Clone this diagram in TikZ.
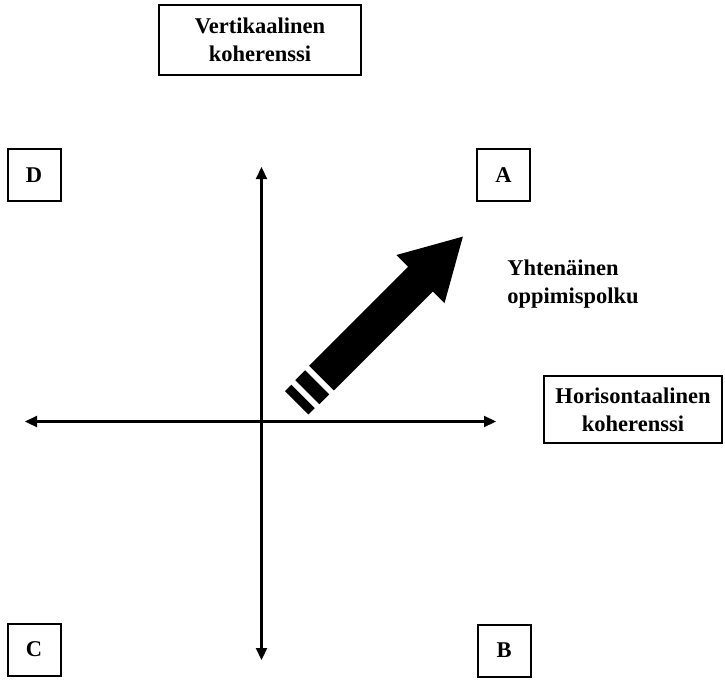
\documentclass[tikz,border=0pt]{standalone}
\usepackage{fontspec}
\setmainfont{Liberation Serif}
\usetikzlibrary{arrows.meta}
\begin{document}
\begin{tikzpicture}[x=1pt,y=-1pt,
  lbl/.style={font=\fontsize{22.5}{28}\selectfont\bfseries, align=center, inner sep=0pt},
  boxnode/.style={lbl, draw, line width=2pt},
  letterbox/.style={boxnode, minimum width=53pt, minimum height=52pt},
  axis/.style={line width=2.2pt, {Triangle[length=12pt,width=11pt]}-{Triangle[length=12pt,width=11pt]}}]
\useasboundingbox (0,0) rectangle (725,680);
% boxes
\node[boxnode, minimum width=202pt, minimum height=70pt] (vert) at (260,40) {Vertikaalinen\\koherenssi};
\node[boxnode, minimum width=178pt, minimum height=67pt] (hor) at (633,409.5) {Horisontaalinen\\koherenssi};
\node[letterbox] (D) at (34,175) {D};
\node[letterbox] (A) at (503.5,175) {A};
\node[letterbox] (C) at (34,649.5) {C};
\node[letterbox] (B) at (504,650.5) {B};
\node[lbl, align=left] (path) at (573,284) {Yhtenäinen\\oppimispolku};
% axes
\coordinate (vtop) at (261.5,167);
\coordinate (vbot) at (261.5,660);
\coordinate (hleft) at (25,421.5);
\coordinate (hright) at (496,421.5);
\draw[axis] (vbot) -- (vtop);
\draw[axis] (hleft) -- (hright);
% big arrow
\begin{scope}[shift={(349.75,349.75)}, rotate=45]
  \fill (160,0) -- (100,-34) -- (100,-17.5) -- (-40,-17.5) -- (-40,17.5) -- (100,17.5) -- (100,34) -- cycle;
  \fill (-46,-17) rectangle (-60,17);
  \fill (-66,-16.5) rectangle (-75,16.5);
\end{scope}
\end{tikzpicture}
\end{document}
